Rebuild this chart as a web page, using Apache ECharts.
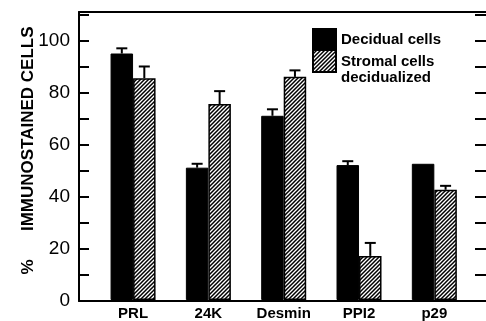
<!DOCTYPE html>
<html>
<head>
<meta charset="utf-8">
<script src="https://cdn.jsdelivr.net/npm/echarts@6/dist/echarts.min.js"></script>
<style>
    html, body { margin: 0; padding: 0; background: #fff; }
    #chart { width: 486px; height: 321px; }
</style>
</head>
<body>
<div id="chart"></div>
<script>
// data
const categories = ['PRL', '24K', 'Desmin', 'PPI2', 'p29'];
const decidual = [95, 51, 71, 52, 52.5];
const decidualErr = [2, 1.5, 2.5, 1.5, 0];
const stromal = [85.5, 75.5, 86, 17, 42.5];
const stromalErr = [4.5, 5, 2.5, 5, 1.5];
const yMin = 0;
const yMax = 111;
const yStep = 10;   // ticks every 10, labels every 20

const FONT = '"Liberation Sans", Arial, sans-serif';

// diagonal hatch pattern
function hatch() {
    const p = 4;
    const c = document.createElement('canvas');
    c.width = p; c.height = p;
    const ctx = c.getContext('2d');
    ctx.fillStyle = '#fff';
    ctx.fillRect(0, 0, p, p);
    ctx.strokeStyle = '#000';
    ctx.lineWidth = 1.5;
    ctx.beginPath();
    ctx.moveTo(0, p); ctx.lineTo(p, 0);
    ctx.moveTo(-1, 1); ctx.lineTo(1, -1);
    ctx.moveTo(p - 1, p + 1); ctx.lineTo(p + 1, p - 1);
    ctx.stroke();
    return { image: c, repeat: 'repeat' };
}

function errBars(name, vals, errs, offset) {
    return {
        name: name + ' err',
        type: 'custom',
        xAxisIndex: 2,
        yAxisIndex: 2,
        silent: true,
        z: 1,
        data: vals.map((v, i) => [i, v, errs[i]]),
        renderItem: function (params, api) {
            if (!api.value(2)) return null;
            const base = api.coord([api.value(0), api.value(1)]);
            const top = api.coord([api.value(0), api.value(1) + api.value(2)]);
            const x = base[0] + offset;
            const st = { stroke: '#000', lineWidth: 2 };
            return {
                type: 'group',
                children: [
                    { type: 'line', shape: { x1: x, y1: base[1], x2: x, y2: top[1] }, style: st },
                    { type: 'line', shape: { x1: x - 5.5, y1: top[1], x2: x + 5.5, y2: top[1] }, style: st }
                ]
            };
        }
    };
}

const legendText = { fontFamily: FONT, fontSize: 15, fontWeight: 'bold', color: '#000', lineHeight: 16 };

const myChart = echarts.init(document.getElementById('chart'));
const option = {
    animation: false,
    backgroundColor: '#fff',
    grid: [
        { left: 79, right: 0, top: 12, bottom: 20 },      // frame
        { left: 95.4, right: 14, top: 12, bottom: 20 }    // bars
    ],
    legend: [
        {
            left: 312, top: 28, orient: 'vertical',
            itemWidth: 23, itemHeight: 22, padding: 0, selectedMode: false,
            textStyle: legendText,
            data: [{ name: 'Decidual cells', icon: 'rect' }]
        },
        {
            // second key: text sits lower than its swatch in the figure
            left: 312, top: 36, orient: 'vertical',
            itemWidth: 23, itemHeight: 22, padding: 0, selectedMode: false,
            formatter: name => '{e| }\n' + name.split('\n').map(s => '{t|' + s + '}').join('\n'),
            textStyle: Object.assign({}, legendText, {
                rich: {
                    e: { height: 18, lineHeight: 18, fontSize: 10 },
                    t: Object.assign({}, legendText)
                }
            }),
            data: [{ name: 'Stromal cells\ndecidualized', icon: 'rect' }]
        }
    ],
    xAxis: [
        {
            type: 'value', gridIndex: 0, min: 0, max: 1, position: 'bottom',
            axisLine: { show: true, onZero: false, lineStyle: { color: '#000', width: 2 } },
            axisTick: { show: false }, axisLabel: { show: false }, splitLine: { show: false }
        },
        {
            type: 'value', gridIndex: 0, min: 0, max: 1, position: 'top',
            axisLine: { show: true, onZero: false, lineStyle: { color: '#000', width: 2 } },
            axisTick: { show: false }, axisLabel: { show: false }, splitLine: { show: false }
        },
        {
            type: 'category', gridIndex: 1, data: categories,
            axisLine: { show: false }, axisTick: { show: false },
            axisLabel: { fontFamily: FONT, fontSize: 15, fontWeight: 'bold', color: '#000', margin: 6 }
        }
    ],
    yAxis: [
        {
            type: 'value', gridIndex: 0, min: yMin, max: yMax, interval: yStep, position: 'left',
            name: '%      IMMUNOSTAINED CELLS',
            nameLocation: 'middle',
            nameRotate: 90,
            nameGap: 42,
            nameMoveOverlap: false,
            nameTextStyle: { fontFamily: FONT, fontSize: 17, fontWeight: 'bold', color: '#000', padding: [0, 0, 0, 12] },
            axisLine: { show: true, onZero: false, lineStyle: { color: '#000', width: 2 } },
            axisTick: { show: true, inside: true, length: 10, lineStyle: { color: '#000', width: 2 } },
            axisLabel: {
                fontFamily: FONT, fontSize: 19, color: '#000', margin: 9,
                formatter: v => (v % 20 === 0 ? String(v) : '')
            },
            splitLine: { show: false }
        },
        {
            type: 'value', gridIndex: 0, min: yMin, max: yMax, interval: yStep, position: 'right',
            axisLine: { show: false, onZero: false },
            axisTick: { show: true, inside: true, length: 11, lineStyle: { color: '#000', width: 2 } },
            axisLabel: { show: false },
            splitLine: { show: false }
        },
        {
            type: 'value', gridIndex: 1, min: yMin, max: yMax, show: false
        }
    ],
    series: [
        {
            name: 'Decidual cells',
            type: 'bar',
            xAxisIndex: 2, yAxisIndex: 2,
            barWidth: 22.5,
            barGap: '0%',
            itemStyle: { color: '#000', borderColor: '#000', borderWidth: 1 },
            data: decidual
        },
        {
            name: 'Stromal cells\ndecidualized',
            type: 'bar',
            xAxisIndex: 2, yAxisIndex: 2,
            barWidth: 22.5,
            barGap: '0%',
            itemStyle: { color: hatch(), borderColor: '#000', borderWidth: 1.5 },
            data: stromal
        },
        errBars('Decidual cells', decidual, decidualErr, -11.25),
        errBars('Stromal cells', stromal, stromalErr, 11.25)
    ]
};
myChart.setOption(option);
window.addEventListener('resize', () => { myChart.resize(); });
</script>
</body>
</html>
